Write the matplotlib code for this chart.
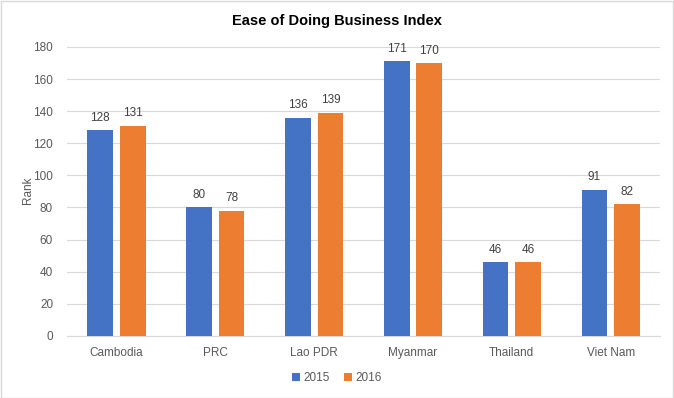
import matplotlib.pyplot as plt
import numpy as np

# Data
countries = ['Cambodia', 'PRC', 'Lao PDR', 'Myanmar', 'Thailand', 'Viet Nam']
rank_2015 = [128, 80, 136, 171, 46, 91]
rank_2016 = [131, 78, 139, 170, 46, 82]

blue = '#4472C4'
orange = '#ED7D31'
text_col = '#595959'

plt.rcParams['font.family'] = ['Liberation Sans', 'DejaVu Sans']

fig = plt.figure(figsize=(6.74, 3.98), dpi=100)
ax = fig.add_axes([0.0994, 0.156, 0.88, 0.726])

x = np.arange(len(countries))
w = 0.26
gap = 0.07
b1 = ax.bar(x - (w + gap) / 2, rank_2015, w, color=blue, label='2015', zorder=3)
b2 = ax.bar(x + (w + gap) / 2, rank_2016, w, color=orange, label='2016', zorder=3)

for bars in (b1, b2):
    for b in bars:
        ax.text(b.get_x() + b.get_width() / 2, b.get_height() + 4, str(int(b.get_height())),
                ha='center', va='bottom', fontsize=8.5, color='#404040')

ax.set_xlim(-0.5, len(countries) - 0.5)
ax.set_ylim(0, 180)
ax.set_yticks(range(0, 181, 20))
ax.set_xticks(x)
ax.set_xticklabels(countries)
ax.tick_params(axis='both', length=0, labelsize=8.5, labelcolor=text_col)
ax.tick_params(axis='x', pad=8)
ax.tick_params(axis='y', pad=10)
ax.grid(axis='y', color='#D9D9D9', linewidth=0.8, zorder=0)
for s in ['top', 'right', 'left']:
    ax.spines[s].set_visible(False)
ax.spines['bottom'].set_color('#D9D9D9')

fig.text(28 / 674, 1 - 190 / 398, 'Rank', rotation=90, ha='center', va='center',
         fontsize=8.5, color=text_col)
fig.suptitle('Ease of Doing Business Index', x=0.5, y=0.965, fontsize=10.5, fontweight='bold')

fig.legend(loc='center', bbox_to_anchor=(0.5, 0.05), ncol=2, frameon=False, fontsize=8.5,
           handlelength=0.7, handleheight=0.7, handletextpad=0.3, columnspacing=1.2,
           labelcolor=text_col)

fig.patches.append(plt.Rectangle((0.001, 0.001), 0.997, 0.997, transform=fig.transFigure,
                                 fill=False, edgecolor='#D9D9D9', linewidth=1))

fig.savefig('out.png', dpi=100)
